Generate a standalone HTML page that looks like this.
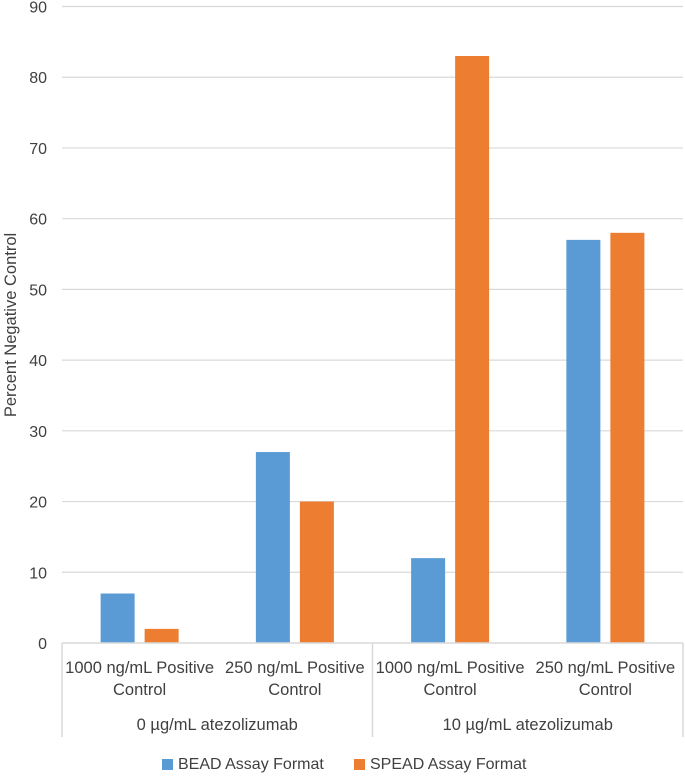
<!DOCTYPE html>
<html><head><meta charset="utf-8"><style>
body{margin:0;background:#fff;font-family:"Liberation Sans",sans-serif;}
svg text{font-family:"Liberation Sans",sans-serif;fill:#404040;}
</style></head><body>
<svg width="685" height="774">
<g id="grid"></g>
<g id="bars"></g>
<g id="axes"></g>
<text transform="translate(16,325) rotate(-90)" text-anchor="middle" font-size="16.5">Percent Negative Control</text>
<g>
<rect x="162" y="759" width="11" height="11" fill="#5b9bd5"/>
<text x="178" y="769" font-size="16">BEAD Assay Format</text>
<rect x="354" y="759" width="11" height="11" fill="#ed7d31"/>
<text x="370" y="769" font-size="16">SPEAD Assay Format</text>
</g>
</svg>
<script>
const categories=[["1000 ng/mL Positive","Control"],["250 ng/mL Positive","Control"],["1000 ng/mL Positive","Control"],["250 ng/mL Positive","Control"]];
const groups=["0 µg/mL atezolizumab","10 µg/mL atezolizumab"];
const beadValues=[7,27,12,57];
const speadValues=[2,20,83,58];
const yTicks=[0,10,20,30,40,50,60,70,80,90];
const NS="http://www.w3.org/2000/svg";
const L=62,R=683,T=6.5,B=643,yMax=90;
const y=v=>B-(v/yMax)*(B-T);
const cw=(R-L)/categories.length;
const x=i=>L+cw*i;
function mk(tag,attrs,parent,txt){const e=document.createElementNS(NS,tag);for(const k in attrs)e.setAttribute(k,attrs[k]);if(txt!=null)e.textContent=txt;document.getElementById(parent).appendChild(e);return e;}
yTicks.forEach(t=>{
 if(t>0){const g=mk('line',{x1:L,x2:R,y1:y(t),y2:y(t),stroke:'#d9d9d9','stroke-width':1.2},'grid');
 
 }
 const lb=mk('text',{x:47,y:y(t)+6,'text-anchor':'end','font-size':16},'axes',t);
 
 
});
const bw=34,gap=10;
categories.forEach((c,i)=>{
 const cx=x(i)+cw/2;
 const b=mk('rect',{x:cx-gap/2-bw,y:y(beadValues[i]),width:bw,height:B-y(beadValues[i]),fill:'#5b9bd5'},'bars');
 
 
 const s=mk('rect',{x:cx+gap/2,y:y(speadValues[i]),width:bw,height:B-y(speadValues[i]),fill:'#ed7d31'},'bars');
 
 
 c.forEach((ln,j)=>{const t=mk('text',{x:cx,y:673+j*22,'text-anchor':'middle','font-size':16.5},'axes',ln);
 
 });
});
const ax=mk('line',{x1:L,x2:R,y1:B,y2:B,stroke:'#d9d9d9','stroke-width':1.5},'axes');


const per=categories.length/groups.length;
for(let g=0;g<=groups.length;g++){
 const v=mk('line',{x1:x(g*per),x2:x(g*per),y1:B,y2:737,stroke:'#d9d9d9','stroke-width':1.5},'axes');
 
 
}
groups.forEach((gname,g)=>{
 const t=mk('text',{x:(x(g*per)+x((g+1)*per))/2,y:730,'text-anchor':'middle','font-size':16.5},'axes',gname);
 
 
});
</script>
</body></html>
